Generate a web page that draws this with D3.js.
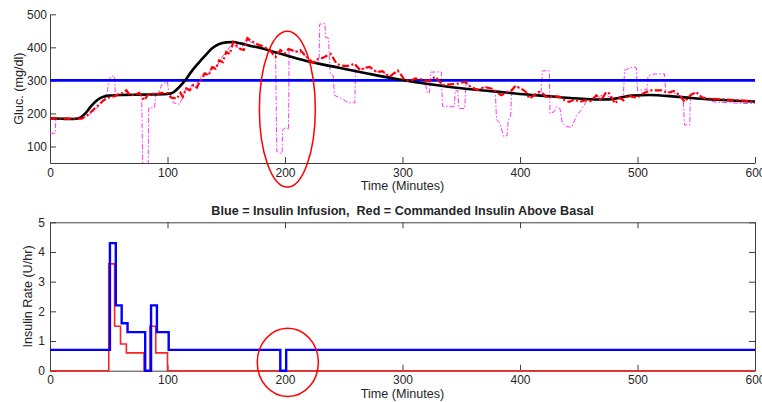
<!DOCTYPE html>
<html><head><meta charset="utf-8">
<script src="https://cdn.jsdelivr.net/npm/d3@7/dist/d3.min.js"></script>
<style>
html,body{margin:0;padding:0;background:#fff;}
svg{display:block;}
text{font-family:"Liberation Sans",Arial,Helvetica,sans-serif;fill:#262626;}
</style></head>
<body><svg id="c" width="762" height="402"></svg>
<script>
// ---------- data ----------
const xTicks = [0,100,200,300,400,500,600];
const glucTicks = [100,200,300,400,500];
const rateTicks = [0,1,2,3,4,5];
const targetGluc = 300;

// model glucose (black, smooth)
const modelTime = [0,10,20,25,30,35,40,45,50,60,80,100,105,110,115,120,126,132,138,144,150,156,162,170,180,190,200,220,245,270,300,322,350,380,400,425,445,470,480,495,510,535,560,600];
const modelGluc = [185,184,183,186,200,222,240,250,254,256,257,259,264,280,300,325,351,375,397,410,415,416,412,405,397,387,377,357,339,321,301,289,276,266,259,252,246,242,244,254,256,250,243,236];

// estimated glucose (red dash-dot, sawtooth)
const estTime = [0,27,32,38,45,51,55,58,62,65,68,72,76,80,83,86,91,95,100,103,108,111,113,116,119,122,125,128,132,135,138,141,144,147,150,153,156,159,162,165,168,172,176,180,184,187,190,192,196,200,203,207,210,213,216,221,224,228,232,236,239,244,248,252,256,259,264,268,272,278,283,289,293,296,302,306,311,316,322,328,334,340,347,353,358,364,370,376,380,384,389,393,396,401,405,408,412,416,419,422,428,434,438,442,446,451,456,460,465,469,473,475,481,485,488,492,496,500,504,511,520,526,531,536,540,545,550,555,560,570,580,590,600];
const estGluc = [185,184,195,215,238,250,252,258,262,270,255,256,262,240,255,260,259,262,261,248,245,262,250,276,270,286,278,300,321,315,340,335,361,355,386,380,416,405,395,392,428,418,410,405,398,393,378,371,392,382,395,390,387,392,380,362,353,365,368,375,380,350,345,343,346,351,331,338,341,325,328,311,322,330,301,298,306,303,298,311,286,288,290,296,280,271,280,275,265,255,265,270,283,275,265,245,255,265,262,250,252,250,240,235,242,235,240,237,255,240,262,265,230,247,240,255,250,248,259,270,270,262,268,255,235,255,265,248,245,243,241,239,237];

// sensor glucose (magenta dash-dot, stepped)
const cgmTime = [0,4.5,5,27,32,38,45,49,50,52,55,55.5,63,66,70,78,79,83.5,84,89,90,93,95,100,101,103,105,110,113,115,118,121,124,127,131,135,138,142,145,150,155,158,163,167,172,176,180,184,188,192,193,197.5,198,201,203,203.5,207,212,216,221,224,229,229.5,234,234.5,237,238.5,241,242,248,254,259.5,260,264,268,273,278,283,289,293,297,302,306,311,316,319,321,323,324,333,334,344,345,347,348,353,354,358,364,370,376,379,380,383,386,389,390,392,393,397,401,405,409,413,417,418,419,425,425.5,429,431,434,436,440,444,448,452,457,462,465,468,472,476,480,485,488,489,496,499,500,508,509,513,523,524,530,535,539,540,544.5,545,550,555,565,580,590,600];
const cgmGluc = [140,140,185,185,192,210,235,268,300,313,313,257,257,262,256,257,20,20,217,217,255,265,287,296,262,258,232,228,248,272,268,288,282,304,324,318,342,340,365,385,412,402,396,425,414,405,402,396,390,383,85,78,150,158,150,395,390,385,378,362,355,360,470,472,430,428,318,315,255,245,232,232,350,333,338,340,326,326,312,322,324,300,300,305,302,300,262,262,325,326,222,220,270,270,215,215,296,282,272,280,276,268,180,170,130,133,180,190,268,282,274,266,248,256,262,262,329,329,200,205,220,215,170,160,158,192,210,240,245,235,252,258,250,245,250,255,331,341,338,270,272,313,319,320,266,262,258,240,165,165,260,262,245,235,232,230,230];

// insulin (step after)
const cmdTime = [0,50,55,60,65,80,85,90,100,600];
const cmdRate = [0,3.6,1.5,0.9,0.6,0,1.5,0.6,0,0];
const infTime = [0,51,56,61,66,81,86,91,101,196,201,600];
const infRate = [0.7,4.3,2.2,1.6,1.3,0,2.2,1.3,0.7,0,0.7,0.7];

// ---------- drawing ----------
const svg = d3.select("#c");
const L = 50, R = 755;
const x = d3.scaleLinear().domain([0,600]).range([L,R]);
const yG = d3.scaleLinear().domain([50,500]).range([163,14.3]);
const yI = d3.scaleLinear().domain([0,5]).range([370.7,222.3]);
const AX = "#404040";
const fmt = d3.format("d");

function styleAxis(g, fs){
  g.selectAll("path.domain").attr("stroke",AX).attr("stroke-width",1);
  g.selectAll(".tick line").attr("stroke",AX).attr("stroke-width",1);
  g.selectAll(".tick text").attr("font-size",fs).attr("fill","#262626")
   .style("font-family",'"Liberation Sans",Arial,Helvetica,sans-serif');
}

svg.append("clipPath").attr("id","clipTop").append("rect")
  .attr("x",L).attr("y",yG(500)).attr("width",R-L).attr("height",yG(50)-yG(500));
svg.append("clipPath").attr("id","clipBot").append("rect")
  .attr("x",L-2).attr("y",yI(5)-2).attr("width",R-L+4).attr("height",yI(0)-yI(5)+4);

// ----- top plot -----
const gTop = svg.append("g");
gTop.append("g").attr("transform",`translate(0,${yG(50)})`)
  .call(d3.axisBottom(x).tickValues(xTicks).tickFormat(fmt).tickSize(-6).tickSizeOuter(0).tickPadding(5))
  .call(g=>styleAxis(g,12));
gTop.append("g").attr("transform",`translate(${L},0)`)
  .call(d3.axisLeft(yG).tickValues(glucTicks).tickFormat(fmt).tickSize(-6).tickSizeOuter(0).tickPadding(3))
  .call(g=>styleAxis(g,12));

const plotTop = gTop.append("g").attr("clip-path","url(#clipTop)");
const lineG = (ts,vs,curve)=>d3.line().x((d,i)=>x(ts[i])).y(d=>yG(d)).curve(curve||d3.curveLinear)(vs);

plotTop.append("path").attr("d",lineG(cgmTime,cgmGluc))
  .attr("fill","none").attr("stroke","#ff33ff").attr("stroke-width",1)
  .attr("stroke-dasharray","5,2,1.5,2");
plotTop.append("path").attr("d",d3.line().x(d=>x(d)).y(()=>yG(targetGluc))([0,600]))
  .attr("fill","none").attr("stroke","#0000ff").attr("stroke-width",2.6);
plotTop.append("path").attr("d",lineG(modelTime,modelGluc,d3.curveMonotoneX))
  .attr("fill","none").attr("stroke","#000").attr("stroke-width",2.6);
plotTop.append("path").attr("d",lineG(estTime,estGluc))
  .attr("fill","none").attr("stroke","#ff0000").attr("stroke-width",2.2)
  .attr("stroke-dasharray","7,2.5,2,2.5");

svg.append("ellipse").attr("cx",x(202)).attr("cy",yG(213))
  .attr("rx",x(202+23.8)-x(202)).attr("ry",yG(213)-yG(213+236))
  .attr("fill","none").attr("stroke","#ff0000").attr("stroke-width",1.5);

svg.append("text").attr("x",(L+R)/2).attr("y",189.5).attr("text-anchor","middle")
  .attr("font-size",12.6).text("Time (Minutes)");
svg.append("text").attr("transform",`translate(22.5,${(yG(50)+yG(500))/2}) rotate(-90)`)
  .attr("text-anchor","middle").attr("font-size",12.6).text("Gluc. (mg/dl)");

// ----- bottom plot -----
const gBot = svg.append("g");
gBot.append("g").attr("transform",`translate(0,${yI(0)})`)
  .call(d3.axisBottom(x).tickValues(xTicks).tickFormat(fmt).tickSize(-6).tickSizeOuter(0).tickPadding(5))
  .call(g=>styleAxis(g,12));
gBot.append("g").attr("transform",`translate(0,${yI(5)})`)
  .call(d3.axisTop(x).tickValues(xTicks).tickSize(-6).tickSizeOuter(0).tickFormat(""))
  .call(g=>styleAxis(g,12));
gBot.append("g").attr("transform",`translate(${L},0)`)
  .call(d3.axisLeft(yI).tickValues(rateTicks).tickFormat(fmt).tickSize(-6).tickSizeOuter(0).tickPadding(5))
  .call(g=>styleAxis(g,12));
gBot.append("g").attr("transform",`translate(${R},0)`)
  .call(d3.axisRight(yI).tickValues(rateTicks).tickSize(-6).tickSizeOuter(0).tickFormat(""))
  .call(g=>styleAxis(g,12));

const plotBot = gBot.append("g").attr("clip-path","url(#clipBot)");
const lineI = (ts,vs)=>d3.line().x((d,i)=>x(ts[i])).y(d=>yI(d)).curve(d3.curveStepAfter)(vs);
plotBot.append("path").attr("d",lineI(cmdTime,cmdRate))
  .attr("fill","none").attr("stroke","#ff2020").attr("stroke-width",1.6);
plotBot.append("path").attr("d",lineI(infTime,infRate))
  .attr("fill","none").attr("stroke","#0000ff").attr("stroke-width",2.4);

svg.append("ellipse").attr("cx",x(202.4)).attr("cy",yI(0.28))
  .attr("rx",x(202.4+26)-x(202.4)).attr("ry",yI(0.28)-yI(0.28+1.15))
  .attr("fill","none").attr("stroke","#ff0000").attr("stroke-width",1.5);

svg.append("text").attr("x",(L+R)/2).attr("y",215).attr("text-anchor","middle")
  .attr("font-size",12.6).attr("font-weight","bold").style("white-space","pre")
  .attr("xml:space","preserve")
  .text("Blue = Insulin Infusion,  Red = Commanded Insulin Above Basal");
svg.append("text").attr("x",(L+R)/2).attr("y",397.5).attr("text-anchor","middle")
  .attr("font-size",12.6).text("Time (Minutes)");
svg.append("text").attr("transform",`translate(32,${(yI(0)+yI(5))/2}) rotate(-90)`)
  .attr("text-anchor","middle").attr("font-size",12.6).text("Insulin Rate (U/hr)");
</script></body></html>
